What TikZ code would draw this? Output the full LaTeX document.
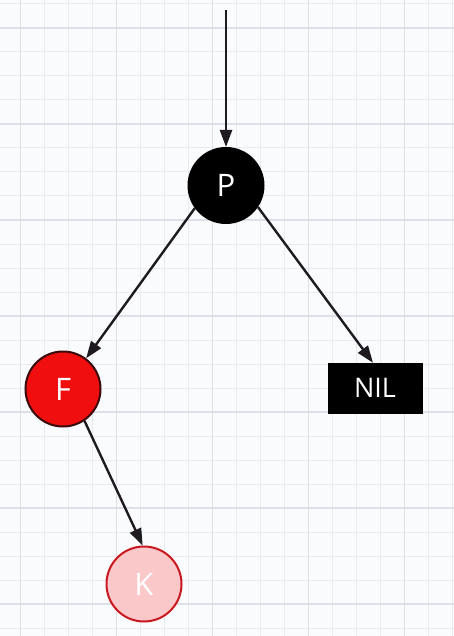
\documentclass[tikz,border=0pt]{standalone}
\usepackage{fontspec}
\setsansfont{Open Sans}
\usepackage{tikz}
\usetikzlibrary{arrows.meta, positioning}
\definecolor{paper}     {RGB}{250, 251, 253}
\definecolor{gridminor} {RGB}{234, 235, 241}
\definecolor{gridmajor} {RGB}{222, 224, 231}
\definecolor{inkdark}   {RGB}{ 30,  27,  32}
\definecolor{redfill}   {RGB}{240,  14,  14}
\definecolor{redrim}    {RGB}{ 60,  10,  10}
\definecolor{pinkfill}  {RGB}{250, 200, 200}
\definecolor{pinkrim}   {RGB}{200,  24,  32}

\begin{document}
\begin{tikzpicture}[x=1pt, y=-1pt,
	treenode/.style={circle, minimum size=75pt, inner sep=0pt, line width=2pt,
		text=white, font=\sffamily\fontsize{31}{31}\selectfont},
	nilbox/.style={rectangle, minimum width=94pt, minimum height=50pt, inner sep=0pt,
		fill=black, draw=black, text=white, font=\sffamily\fontsize{27}{27}\selectfont},
	link/.style={draw=inkdark, line width=2.4pt, -{Triangle[length=17pt, width=12pt]}}]
						\useasboundingbox[fill=paper] (0,0) rectangle (454,636);
						% grid
						\foreach \i in {0,...,18} \draw[gridminor, line width=1pt] ({20.7+24*\i},0) -- ++(0,636);
						\foreach \j in {0,...,26} \draw[gridminor, line width=1pt] (0,{4+24*\j}) -- ++(454,0);
						\foreach \i in {0,...,4} \draw[gridmajor, line width=1.2pt] ({20.7+96*\i},0) -- ++(0,636);
						\foreach \j in {0,...,6} \draw[gridmajor, line width=1.2pt] (0,{28+96*\j}) -- ++(454,0);
						% tree
						\node[treenode, fill=black, draw=black] (P) at (226,185.5) {P};
						\node[treenode, fill=redfill, draw=redrim] (F) at (63,389) {F};
						\node[nilbox] (NIL) at (375,388) {NIL};
						\node[treenode, fill=pinkfill, draw=pinkrim] (K) at (144,584) {K};
						\coordinate (entry) at (226,10);
						\draw[link] (entry) -- (P);
						\draw[link] (P.216) -- (F.53);
						\draw[link] (P.326) -- ([xshift=-2pt]NIL.north);
						\draw[link] (F.304) -- (K.92);
					\end{tikzpicture}
\end{document}
